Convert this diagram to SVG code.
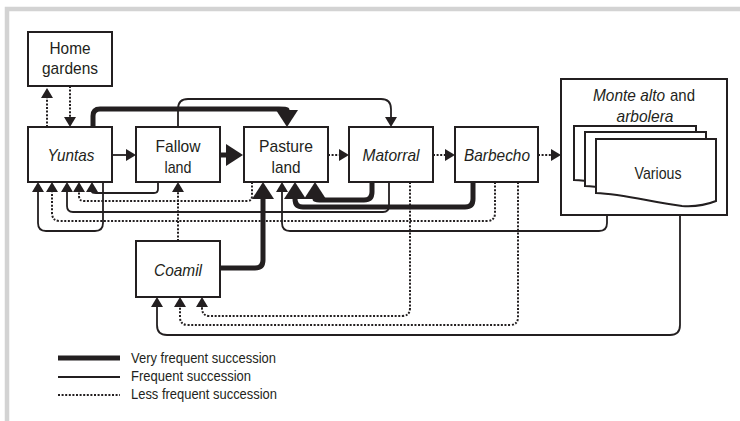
<svg xmlns="http://www.w3.org/2000/svg" width="740" height="421" viewBox="0 0 740 421">
<defs>
<style>
.box{fill:#fff;stroke:#231f20;stroke-width:2}
.t{font-family:"Liberation Sans",Arial,sans-serif;font-size:17px;fill:#231f20;text-anchor:middle}
.s{text-anchor:start}
.i{font-style:italic}
.lg{font-family:"Liberation Sans",Arial,sans-serif;font-size:14.5px;fill:#231f20}
.c{fill:none;stroke:#231f20}
.vf{stroke-width:5}
.fr{stroke-width:1.8}
.lf{stroke-width:2;stroke-dasharray:2 1.6}
</style>
<marker id="big" markerUnits="userSpaceOnUse" markerWidth="18" markerHeight="22" refX="0" refY="11" orient="auto" overflow="visible">
<path d="M0,0 L17,11 L0,22 Z" fill="#231f20"/>
</marker>
<marker id="sm" markerUnits="userSpaceOnUse" markerWidth="11" markerHeight="12" refX="0" refY="6" orient="auto" overflow="visible">
<path d="M0,0 L10,6 L0,12 Z" fill="#231f20"/>
</marker>
</defs>
<rect width="740" height="421" fill="#fff"/>
<path d="M7,421 V9 H740" fill="none" stroke="#d3d3d3" stroke-width="4.5"/>

<g id="connectors">
<path class="c lf" d="M47,127 V98" marker-end="url(#sm)"/>
<path class="c lf" d="M70,86 V117" marker-end="url(#sm)"/>
<path class="c fr" d="M112,155 H126" marker-end="url(#sm)"/>
<path class="c vf" d="M220,155 H226" marker-end="url(#big)"/>
<path class="c lf" d="M328,155 H339" marker-end="url(#sm)"/>
<path class="c lf" d="M433,155 H445" marker-end="url(#sm)"/>
<path class="c lf" d="M538,155 H551" marker-end="url(#sm)"/>
<path class="c vf" d="M93,127 V116 Q93,109 100,109 H279 Q287,109 287,110" marker-end="url(#big)"/>
<path class="c fr" d="M178,127 V109 Q178,99 188,99 H381 Q391,99 391,109 V117" marker-end="url(#sm)"/>
<path class="c fr" d="M158,182 V189 Q158,193 154,193 H96 Q92,193 92,192" marker-end="url(#sm)"/>
<path class="c lf" d="M252,182 V196 Q252,201 247,201 H84 Q79,201 79,196 V192" marker-end="url(#sm)"/>
<path class="c fr" d="M389,182 V206 Q389,212 383,212 H73 Q67,212 67,206 V192" marker-end="url(#sm)"/>
<path class="c lf" d="M495,182 V213 Q495,221 487,221 H60 Q52,221 52,213 V192" marker-end="url(#sm)"/>
<path class="c fr" d="M103,182 V223 Q103,231 95,231 H46 Q38,231 38,223 V192" marker-end="url(#sm)"/>
<path class="c lf" d="M178,241 V192" marker-end="url(#sm)"/>
<path class="c vf" d="M220,268 H255 Q263,268 263,260 V199" marker-end="url(#big)"/>
<path class="c fr" d="M607,215 V223 Q607,231 599,231 H290 Q282,231 282,223 V192" marker-end="url(#sm)"/>
<path class="c vf" d="M372,182 V192 Q372,200 364,200 H323 Q315,200 315,199" marker-end="url(#big)"/>
<path class="c vf" d="M473,182 V199 Q473,207 465,207 H303 Q295,207 295,199" marker-end="url(#big)"/>
<path class="c lf" d="M410,182 V308 Q410,316 402,316 H210 Q202,316 202,308 V307" marker-end="url(#sm)"/>
<path class="c lf" d="M518,182 V317 Q518,325 510,325 H188 Q180,325 180,317 V307" marker-end="url(#sm)"/>
<path class="c fr" d="M680,215 V325 Q680,335 670,335 H167 Q157,335 157,325 V307" marker-end="url(#sm)"/>
</g>

<g id="home-gardens">
<rect class="box" x="28" y="32" width="84" height="54"/>
<text class="t" x="70" y="54" textLength="41" lengthAdjust="spacingAndGlyphs">Home</text>
<text class="t" x="70" y="74" textLength="56" lengthAdjust="spacingAndGlyphs">gardens</text>
</g>
<g id="yuntas">
<rect class="box" x="28" y="127" width="84" height="55"/>
<text class="t i" x="71" y="161" textLength="47" lengthAdjust="spacingAndGlyphs">Yuntas</text>
</g>
<g id="fallow-land">
<rect class="box" x="136" y="127" width="84" height="55"/>
<text class="t" x="178" y="152" textLength="45" lengthAdjust="spacingAndGlyphs">Fallow</text>
<text class="t" x="178" y="173" textLength="27" lengthAdjust="spacingAndGlyphs">land</text>
</g>
<g id="pasture-land">
<rect class="box" x="244" y="127" width="84" height="55"/>
<text class="t" x="286" y="152" textLength="54" lengthAdjust="spacingAndGlyphs">Pasture</text>
<text class="t" x="286" y="173" textLength="29" lengthAdjust="spacingAndGlyphs">land</text>
</g>
<g id="matorral">
<rect class="box" x="349" y="127" width="84" height="55"/>
<text class="t i" x="391" y="161" textLength="57" lengthAdjust="spacingAndGlyphs">Matorral</text>
</g>
<g id="barbecho">
<rect class="box" x="455" y="127" width="83" height="55"/>
<text class="t i" x="497" y="161" textLength="66" lengthAdjust="spacingAndGlyphs">Barbecho</text>
</g>
<g id="monte-alto">
<rect class="box" x="561" y="79" width="166" height="136"/>
<text class="t s i" x="593" y="101" textLength="72" lengthAdjust="spacingAndGlyphs">Monte alto</text>
<text class="t s" x="670" y="101" textLength="25" lengthAdjust="spacingAndGlyphs">and</text>
<text class="t i" x="645" y="122" textLength="57" lengthAdjust="spacingAndGlyphs">arbolera</text>
<path class="box" d="M574,126 H696 V188 C686,192 676,194 662,193 C634,190 605,181 574,180 Z"/>
<path class="box" d="M585,132 H706 V194 C696,198 686,200 672,199 C644,196 615,187 585,186 Z"/>
<path class="box" d="M596,139 H716 V201 C706,205 696,207 682,206 C654,203 625,194 596,193 Z"/>
<text class="t" x="658" y="179" textLength="47" lengthAdjust="spacingAndGlyphs">Various</text>
</g>
<g id="coamil">
<rect class="box" x="136" y="241" width="84" height="56"/>
<text class="t i" x="178" y="276" textLength="48" lengthAdjust="spacingAndGlyphs">Coamil</text>
</g>

<g id="legend">
<line x1="58" y1="358" x2="120" y2="358" class="c vf"/>
<line x1="58" y1="377" x2="120" y2="377" class="c fr"/>
<line x1="58" y1="395" x2="120" y2="395" class="c lf"/>
<text class="lg" x="131" y="363" textLength="145" lengthAdjust="spacingAndGlyphs">Very frequent succession</text>
<text class="lg" x="131" y="381" textLength="120" lengthAdjust="spacingAndGlyphs">Frequent succession</text>
<text class="lg" x="131" y="399" textLength="146" lengthAdjust="spacingAndGlyphs">Less frequent succession</text>
</g>
</svg>
